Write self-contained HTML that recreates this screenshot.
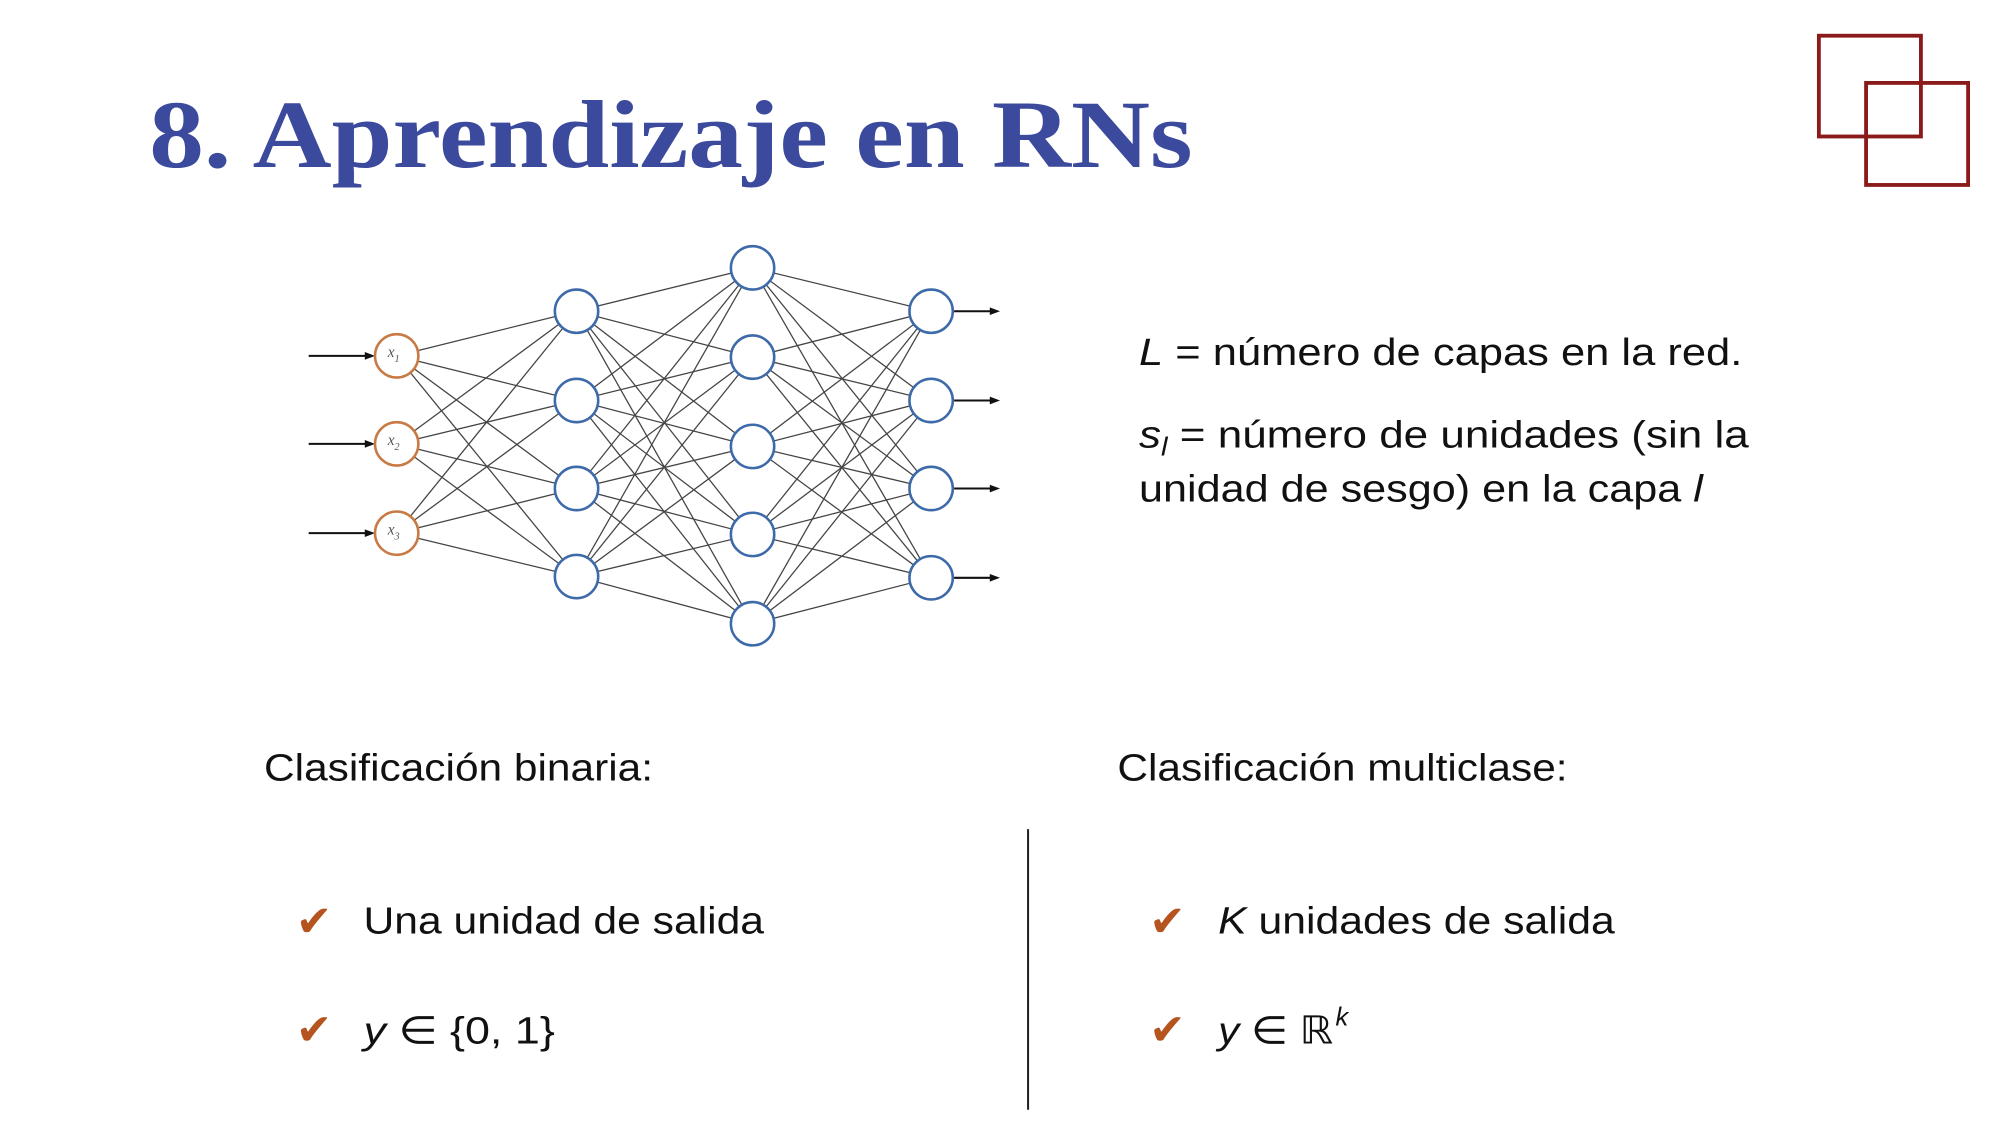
<!DOCTYPE html>
<html><head><meta charset="utf-8"><style>
html,body{margin:0;padding:0;background:#fff;}
svg{display:block}
</style></head><body>
<svg width="2000" height="1125" viewBox="0 0 1568 882" preserveAspectRatio="none" xmlns="http://www.w3.org/2000/svg">
<rect width="1568" height="882" fill="#fff"/>
<text x="117" y="131" font-family="Liberation Serif, serif" font-weight="bold" font-size="76" fill="#3b4a9c" textLength="818" lengthAdjust="spacingAndGlyphs">8. Aprendizaje en RNs</text>
<rect x="1426" y="28" width="80" height="79" fill="none" stroke="#8b1a1a" stroke-width="3"/>
<rect x="1463" y="65" width="80" height="80" fill="none" stroke="#8b1a1a" stroke-width="3"/>
<g id="net" stroke="#444" stroke-width="1">
<g>
<line x1="311" y1="279" x2="452" y2="244"/><line x1="311" y1="279" x2="452" y2="314"/><line x1="311" y1="279" x2="452" y2="383"/><line x1="311" y1="279" x2="452" y2="452"/>
<line x1="311" y1="348" x2="452" y2="244"/><line x1="311" y1="348" x2="452" y2="314"/><line x1="311" y1="348" x2="452" y2="383"/><line x1="311" y1="348" x2="452" y2="452"/>
<line x1="311" y1="418" x2="452" y2="244"/><line x1="311" y1="418" x2="452" y2="314"/><line x1="311" y1="418" x2="452" y2="383"/><line x1="311" y1="418" x2="452" y2="452"/>
</g>
<g>
<line x1="452" y1="244" x2="590" y2="210"/><line x1="452" y1="244" x2="590" y2="280"/><line x1="452" y1="244" x2="590" y2="350"/><line x1="452" y1="244" x2="590" y2="419"/><line x1="452" y1="244" x2="590" y2="489"/>
<line x1="452" y1="314" x2="590" y2="210"/><line x1="452" y1="314" x2="590" y2="280"/><line x1="452" y1="314" x2="590" y2="350"/><line x1="452" y1="314" x2="590" y2="419"/><line x1="452" y1="314" x2="590" y2="489"/>
<line x1="452" y1="383" x2="590" y2="210"/><line x1="452" y1="383" x2="590" y2="280"/><line x1="452" y1="383" x2="590" y2="350"/><line x1="452" y1="383" x2="590" y2="419"/><line x1="452" y1="383" x2="590" y2="489"/>
<line x1="452" y1="452" x2="590" y2="210"/><line x1="452" y1="452" x2="590" y2="280"/><line x1="452" y1="452" x2="590" y2="350"/><line x1="452" y1="452" x2="590" y2="419"/><line x1="452" y1="452" x2="590" y2="489"/>
</g>
<g>
<line x1="590" y1="210" x2="730" y2="244"/><line x1="590" y1="210" x2="730" y2="314"/><line x1="590" y1="210" x2="730" y2="383"/><line x1="590" y1="210" x2="730" y2="453"/>
<line x1="590" y1="280" x2="730" y2="244"/><line x1="590" y1="280" x2="730" y2="314"/><line x1="590" y1="280" x2="730" y2="383"/><line x1="590" y1="280" x2="730" y2="453"/>
<line x1="590" y1="350" x2="730" y2="244"/><line x1="590" y1="350" x2="730" y2="314"/><line x1="590" y1="350" x2="730" y2="383"/><line x1="590" y1="350" x2="730" y2="453"/>
<line x1="590" y1="419" x2="730" y2="244"/><line x1="590" y1="419" x2="730" y2="314"/><line x1="590" y1="419" x2="730" y2="383"/><line x1="590" y1="419" x2="730" y2="453"/>
<line x1="590" y1="489" x2="730" y2="244"/><line x1="590" y1="489" x2="730" y2="314"/><line x1="590" y1="489" x2="730" y2="383"/><line x1="590" y1="489" x2="730" y2="453"/>
</g>
<g stroke="#111" stroke-width="1.6">
<line x1="242" y1="279" x2="288" y2="279"/><line x1="242" y1="348" x2="288" y2="348"/><line x1="242" y1="418" x2="288" y2="418"/>
<line x1="748" y1="244" x2="778" y2="244"/><line x1="748" y1="314" x2="778" y2="314"/><line x1="748" y1="383" x2="778" y2="383"/><line x1="748" y1="453" x2="778" y2="453"/>
</g>
</g>
<g fill="#111">
<path d="M294 279 l-8 -3 v6z"/><path d="M294 348 l-8 -3 v6z"/><path d="M294 418 l-8 -3 v6z"/>
<path d="M784 244 l-8 -3 v6z"/><path d="M784 314 l-8 -3 v6z"/><path d="M784 383 l-8 -3 v6z"/><path d="M784 453 l-8 -3 v6z"/>
</g>
<g fill="#fff" stroke="#c87a45" stroke-width="2">
<circle cx="311" cy="279" r="17"/><circle cx="311" cy="348" r="17"/><circle cx="311" cy="418" r="17"/>
</g>
<g font-family="Liberation Serif, serif" font-style="italic" font-size="12" fill="#555">
<text x="304" y="280">x<tspan font-size="8" dy="4">1</tspan></text>
<text x="304" y="349">x<tspan font-size="8" dy="4">2</tspan></text>
<text x="304" y="419">x<tspan font-size="8" dy="4">3</tspan></text>
</g>
<g fill="#fff" stroke="#3d6aa8" stroke-width="2">
<circle cx="452" cy="244" r="17"/><circle cx="452" cy="314" r="17"/><circle cx="452" cy="383" r="17"/><circle cx="452" cy="452" r="17"/>
<circle cx="590" cy="210" r="17"/><circle cx="590" cy="280" r="17"/><circle cx="590" cy="350" r="17"/><circle cx="590" cy="419" r="17"/><circle cx="590" cy="489" r="17"/>
<circle cx="730" cy="244" r="17"/><circle cx="730" cy="314" r="17"/><circle cx="730" cy="383" r="17"/><circle cx="730" cy="453" r="17"/>
</g>
<g font-family="Liberation Sans, sans-serif" font-size="30" fill="#111">
<text x="893" y="286" textLength="473" lengthAdjust="spacingAndGlyphs"><tspan font-style="italic">L</tspan> = número de capas en la red.</text>
<text x="893" y="351" textLength="478" lengthAdjust="spacingAndGlyphs"><tspan font-style="italic">s<tspan font-size="20" dy="6">l</tspan></tspan><tspan dy="-6"> = número de unidades (sin la</tspan></text>
<text x="893" y="393" textLength="442" lengthAdjust="spacingAndGlyphs">unidad de sesgo) en la capa <tspan font-style="italic">l</tspan></text>
<text x="207" y="612" textLength="305" lengthAdjust="spacingAndGlyphs">Clasificación binaria:</text>
<text x="876" y="612" textLength="353" lengthAdjust="spacingAndGlyphs">Clasificación multiclase:</text>
<text x="285" y="732" textLength="314" lengthAdjust="spacingAndGlyphs">Una unidad de salida</text>
<text x="955" y="732" textLength="311" lengthAdjust="spacingAndGlyphs"><tspan font-style="italic">K</tspan> unidades de salida</text>
<text x="285" y="818" textLength="150" lengthAdjust="spacingAndGlyphs"><tspan font-style="italic">y</tspan> ∈ {0, 1}</text>
<text x="955" y="818" textLength="90" lengthAdjust="spacingAndGlyphs"><tspan font-style="italic">y</tspan> ∈ ℝ</text>
<text x="1047" y="804" font-size="20" font-style="italic">k</text>
</g>
<g font-family="DejaVu Sans, sans-serif" font-size="34" fill="#b5541f" font-weight="bold">
<text x="232" y="734">✔</text><text x="232" y="819">✔</text>
<text x="901" y="734">✔</text><text x="901" y="819">✔</text>
</g>
<line x1="806" y1="650" x2="806" y2="870" stroke="#222" stroke-width="1.6"/>
</svg>
</body></html>
